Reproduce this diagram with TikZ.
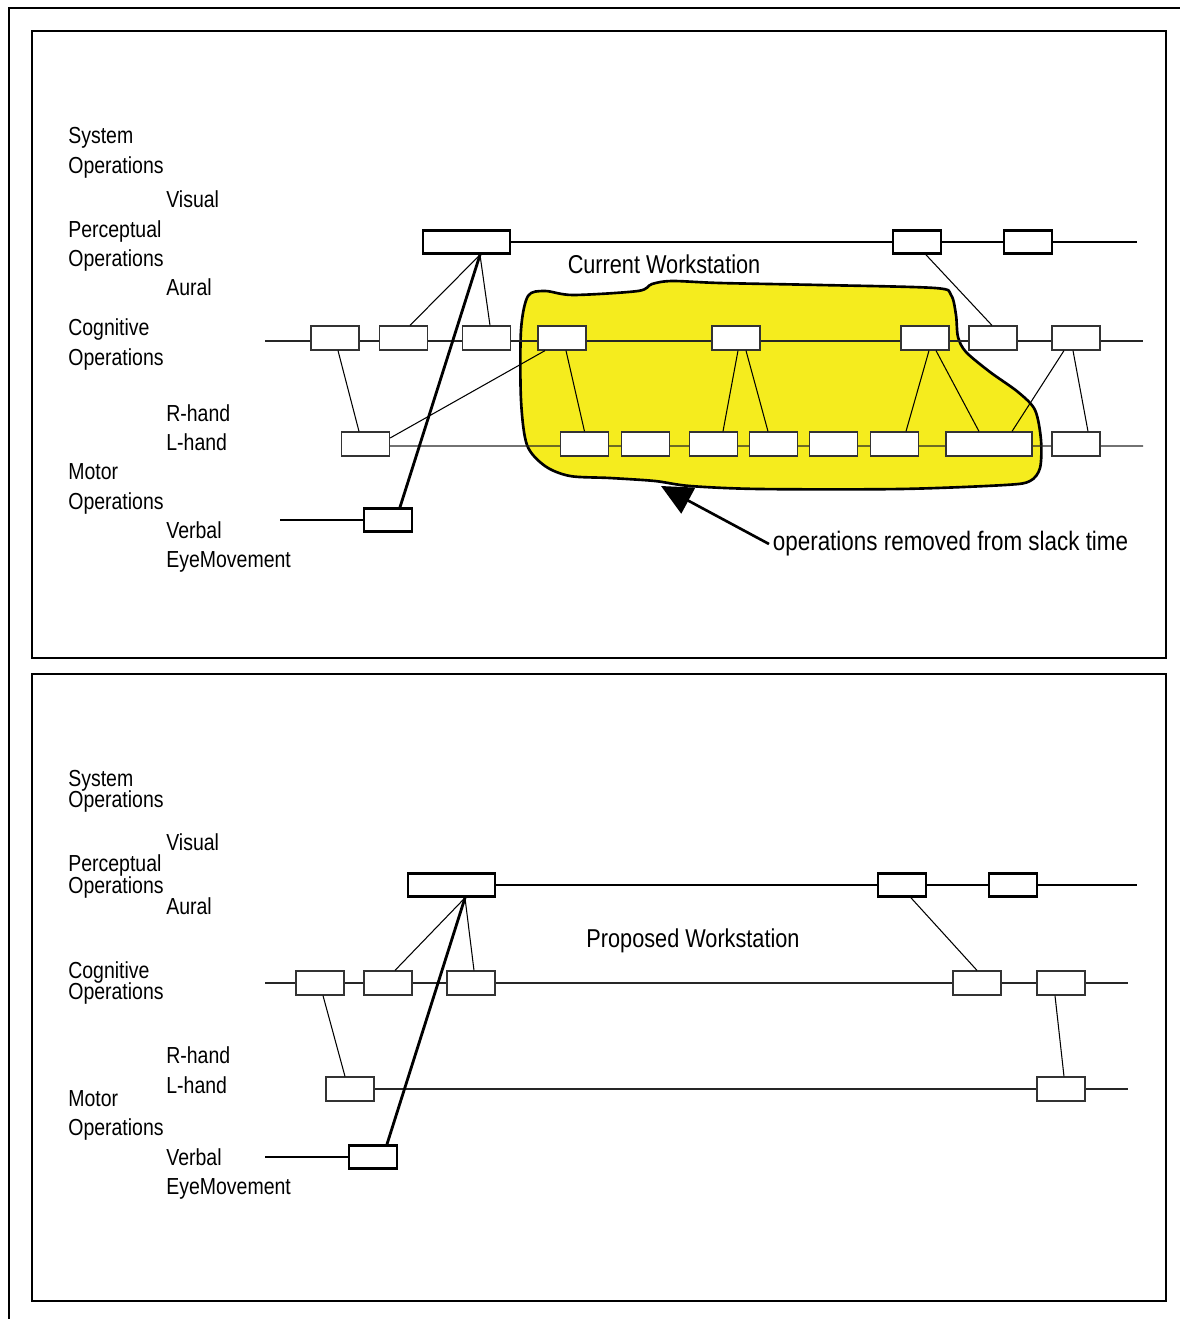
\documentclass[tikz,border=0pt]{standalone}
\usepackage{fontspec}
\setmainfont{Liberation Sans}[FakeStretch=0.84]
\usetikzlibrary{arrows.meta,calc,backgrounds}
\definecolor{slackyellow}{RGB}{245,236,30}

\begin{document}
\begin{tikzpicture}[
      x=0.02cm, y=-0.02cm,
      font=\fontsize{13.2pt}{15pt}\selectfont,
      lbl/.style={anchor=base west, inner sep=0pt},
      title/.style={anchor=base, inner sep=0pt, font=\fontsize{14.7pt}{17pt}\selectfont},
      op/.style={draw=black!80, fill=white, line width=.7pt, minimum width=.96cm,
                 minimum height=.48cm, inner sep=0pt},
      thickop/.style={draw=black, fill=white, line width=1.5pt, minimum width=.96cm,
                      minimum height=.46cm, inner sep=0pt},
      track/.style={draw=black!85, line width=.7pt},
      thicktrack/.style={draw=black, line width=1.6pt},
      link/.style={draw=black, line width=.6pt},
      thicklink/.style={draw=black, line width=1.6pt}
    ]
    \useasboundingbox (0,0) rectangle (1180,1319);
    \draw[line width=1pt] (9,1319) -- (9,8) -- (1180,8);
    \draw[line width=.8pt] (32,31) rectangle (1166,658);
    \draw[line width=.8pt] (32,674) rectangle (1166,1301);

    % Current workstation: row labels.
    \node[lbl] (sys1) at (68,143) {System};
    \node[lbl] (sysops1) at (68,173) {Operations};
    \node[lbl] (vis1) at (166,207) {Visual};
    \node[lbl] (perc1lbl) at (68,237) {Perceptual};
    \node[lbl] (percops1) at (68,266) {Operations};
    \node[lbl] (aur1) at (166,295) {Aural};
    \node[lbl] (cog1lbl) at (68,335) {Cognitive};
    \node[lbl] (cogops1) at (68,365) {Operations};
    \node[lbl] (rh1) at (166,421) {R-hand};
    \node[lbl] (lh1) at (166,450) {L-hand};
    \node[lbl] (mot1lbl) at (68,479) {Motor};
    \node[lbl] (motops1) at (68,509) {Operations};
    \node[lbl] (verb1lbl) at (166,538) {Verbal};
    \node[lbl] (eye1) at (166,567) {EyeMovement};
    \node[title] (curtitle) at (664,273) {Current Workstation};

    % Current workstation: operations.
    \node[thickop, minimum width=1.74cm] (perc1) at (466.5,242) {};
    \node[thickop] (perc2) at (917,242) {};
    \node[thickop] (perc3) at (1028,242) {};
    \node[thickop] (verb1) at (388,520) {};
    \node[op] (cog1) at (335,338) {};
    \node[op] (cog2) at (403.5,338) {};
    \node[op] (cog3) at (486.5,338) {};
    \node[op] (cog4) at (562,338) {};
    \node[op] (cog5) at (736,338) {};
    \node[op] (cog6) at (925,338) {};
    \node[op] (cog7) at (993,338) {};
    \node[op] (cog8) at (1076,338) {};
    \node[op] (mot1) at (365.5,444) {};
    \node[op] (mot2) at (584.5,444) {};
    \node[op] (mot3) at (645.5,444) {};
    \node[op] (mot4) at (713.5,444) {};
    \node[op] (mot5) at (773.5,444) {};
    \node[op] (mot6) at (833.5,444) {};
    \node[op] (mot7) at (894.5,444) {};
    \node[op, minimum width=1.72cm] (mot8) at (989,444) {};
    \node[op] (mot9) at (1076,444) {};
    \coordinate (cogstart1) at (265,341);
    \coordinate (cogend1) at (1143,341);
    \coordinate (motend1) at (1143,446);
    \coordinate (percend1) at (1137,242);
    \coordinate (verbstart1) at (280,520);

    \begin{pgfonlayer}{background}
      \draw[line width=1.5pt, fill=slackyellow] plot[smooth cycle, tension=.5] coordinates {
        (521,330) (528,296) (545,291) (573,295) (638,291) (652,284) (672,281)
        (720,283) (820,285) (935,288) (951,295) (956,315) (958,337) (966,352)
        (990,372) (1018,392) (1035,410) (1041,440) (1040,468) (1030,481)
        (1005,485) (900,489) (760,489) (690,486) (655,481) (610,478) (570,476)
        (545,466) (527,445) (521,400)};
      \draw[track] (cogstart1) -- (cogend1);
      \draw[track] ([yshift=-.04cm]mot1.center) -- (motend1);
      \draw[thicktrack] (perc1.center) -- (percend1);
      \draw[thicktrack] (verbstart1) -- (verb1.west);
    \end{pgfonlayer}

    \draw[link] ($(perc1.south)+(13.5,0)$) -- ($(cog2.north)+(6.5,0)$);
    \draw[link] ($(perc1.south)+(13.5,0)$) -- ($(cog3.north)+(3.5,0)$);
    \draw[thicklink] ($(perc1.south)+(13.5,0)$) -- ($(verb1.north)+(12,0)$);
    \draw[link] ($(perc2.south)+(9,0)$) -- ($(cog7.north)+(-1,0)$);
    \draw[link] ($(cog1.south)+(3,0)$) -- ($(mot1.north)+(-6.5,0)$);
    \draw[link] ($(mot1.east)+(0,-6)$) -- ($(cog4.south)+(-17,0)$);
    \draw[link] ($(cog4.south)+(4,0)$) -- (mot2.north);
    \draw[link] ($(cog5.south)+(2,0)$) -- ($(mot4.north)+(9.5,0)$);
    \draw[link] ($(cog5.south)+(10,0)$) -- ($(mot5.north)+(-5.5,0)$);
    \draw[link] ($(cog6.south)+(4,0)$) -- ($(mot7.north)+(11.5,0)$);
    \draw[link] ($(cog6.south)+(11,0)$) -- ($(mot8.north)+(-10,0)$);
    \draw[link] ($(cog8.south)+(-12,0)$) -- ($(mot8.north)+(23,0)$);
    \draw[link] ($(cog8.south)+(-3,0)$) -- ($(mot9.north)+(12,0)$);

    \node[anchor=west, inner sep=2pt, font=\fontsize{15.2pt}{17pt}\selectfont]
      (slacknote) at (769,544) {operations removed from slack time};
    \coordinate (slacktip) at (661,486);
    \draw[line width=1.5pt, -{Triangle[length=.62cm, width=.58cm]}] (slacknote.west) -- (slacktip);

    % Proposed workstation: row labels.
    \node[lbl] (sys2) at (68,786) {System};
    \node[lbl] (sysops2) at (68,807) {Operations};
    \node[lbl] (vis2) at (166,850) {Visual};
    \node[lbl] (perc2lbl) at (68,871) {Perceptual};
    \node[lbl] (percops2) at (68,893) {Operations};
    \node[lbl] (aur2) at (166,914) {Aural};
    \node[lbl] (cog2lbl) at (68,978) {Cognitive};
    \node[lbl] (cogops2) at (68,999) {Operations};
    \node[lbl] (rh2) at (166,1063) {R-hand};
    \node[lbl] (lh2) at (166,1093) {L-hand};
    \node[lbl] (mot2lbl) at (68,1106) {Motor};
    \node[lbl] (motops2) at (68,1135) {Operations};
    \node[lbl] (verb2lbl) at (166,1165) {Verbal};
    \node[lbl] (eye2) at (166,1194) {EyeMovement};
    \node[title] (proptitle) at (693,947) {Proposed Workstation};

    % Proposed workstation: operations.
    \node[thickop, minimum width=1.74cm] (pperc1) at (451.5,885) {};
    \node[thickop] (pperc2) at (902,885) {};
    \node[thickop] (pperc3) at (1013,885) {};
    \node[thickop] (pverb1) at (373,1157) {};
    \node[op] (pcog1) at (320,983) {};
    \node[op] (pcog2) at (388,983) {};
    \node[op] (pcog3) at (471,983) {};
    \node[op] (pcog4) at (977,983) {};
    \node[op] (pcog5) at (1061,983) {};
    \node[op] (pmot1) at (350,1089) {};
    \node[op] (pmot2) at (1061,1089) {};
    \coordinate (cogstart2) at (265,983);
    \coordinate (cogend2) at (1128,983);
    \coordinate (motend2) at (1128,1089);
    \coordinate (percend2) at (1137,885);
    \coordinate (verbstart2) at (265,1157);

    \begin{pgfonlayer}{background}
      \draw[track] (cogstart2) -- (cogend2);
      \draw[track] (pmot1.center) -- (motend2);
      \draw[thicktrack] (pperc1.center) -- (percend2);
      \draw[thicktrack] (verbstart2) -- (pverb1.west);
    \end{pgfonlayer}

    \draw[link] ($(pperc1.south)+(13.5,0)$) -- ($(pcog2.north)+(7,0)$);
    \draw[link] ($(pperc1.south)+(13.5,0)$) -- ($(pcog3.north)+(3,0)$);
    \draw[thicklink] ($(pperc1.south)+(13.5,0)$) -- ($(pverb1.north)+(14,0)$);
    \draw[link] ($(pperc2.south)+(9,0)$) -- (pcog4.north);
    \draw[link] ($(pcog1.south)+(3,0)$) -- ($(pmot1.north)+(-5,0)$);
    \draw[link] ($(pcog5.south)+(-6,0)$) -- ($(pmot2.north)+(3,0)$);
  \end{tikzpicture}
\end{document}
